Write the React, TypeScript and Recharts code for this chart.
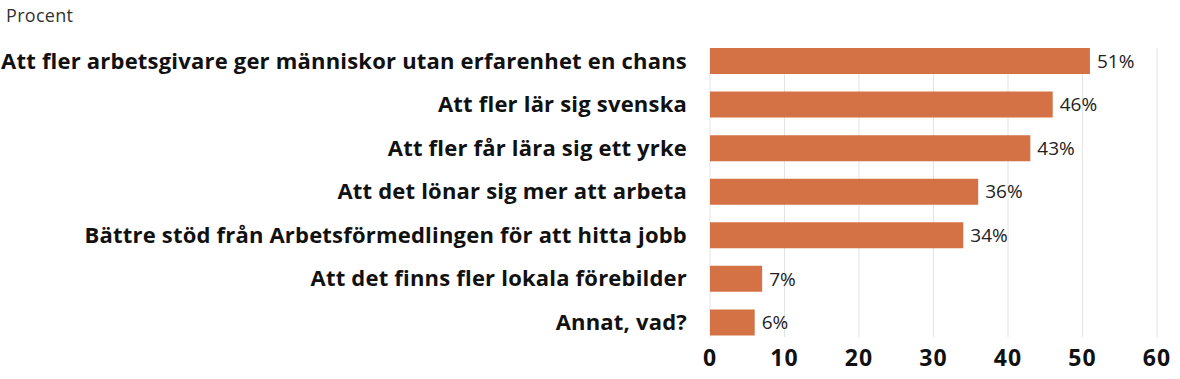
import React from "react";
import { BarChart, Bar, XAxis, YAxis, CartesianGrid, LabelList } from "recharts";

const categories = [
  "Att fler arbetsgivare ger människor utan erfarenhet en chans",
  "Att fler lär sig svenska",
  "Att fler får lära sig ett yrke",
  "Att det lönar sig mer att arbeta",
  "Bättre stöd från Arbetsförmedlingen för att hitta jobb",
  "Att det finns fler lokala förebilder",
  "Annat, vad?",
];
const values = [51, 46, 43, 36, 34, 7, 6];
const xTicks = [0, 10, 20, 30, 40, 50, 60];

const data = categories.map((name, i) => ({ name, value: values[i] }));

const FONT = "'Open Sans', 'Noto Sans', sans-serif";

const GridLine = (props: any) => (
  <line x1={props.x1} x2={props.x2} y1={props.y1 + 9} y2={props.y2 - 7} stroke="#e3e3e3" strokeWidth={1} />
);

export default function App() {
  return (
    <div style={{ position: "absolute", left: 0, top: 0, width: 1180, height: 379, background: "#fff", fontFamily: FONT }}>
      <div style={{ position: "absolute", left: 6, top: 3, fontSize: 18, color: "#333", letterSpacing: 0.3 }}>Procent</div>
      <BarChart
        width={1180}
        height={379}
        data={data}
        layout="vertical"
        margin={{ top: 39, right: 23, left: 0, bottom: 0 }}
        barCategoryGap={9}
      >
        <CartesianGrid horizontal={false} vertical={GridLine as any} />
        <XAxis
          type="number"
          domain={[0, 60]}
          ticks={xTicks}
          axisLine={false}
          tickLine={false}
          height={35}
          tickMargin={0}
          tick={{ fontSize: 23, fontWeight: 700, fill: "#111", fontFamily: FONT, letterSpacing: 1 }}
        />
        <YAxis
          type="category"
          dataKey="name"
          width={710}
          axisLine={false}
          tickLine={false}
          tickMargin={17}
          interval={0}
          tick={{ fontSize: 22, fontWeight: 700, fill: "#111", fontFamily: FONT, letterSpacing: 0.2 }}
        />
        <Bar dataKey="value" fill="#d47245" barSize={26} isAnimationActive={false}>
          <LabelList
            dataKey="value"
            position="right"
            offset={7}
            formatter={(v: any) => `${v}%`}
            style={{ fontSize: 19, fill: "#222", fontFamily: FONT }}
          />
        </Bar>
      </BarChart>
    </div>
  );
}
